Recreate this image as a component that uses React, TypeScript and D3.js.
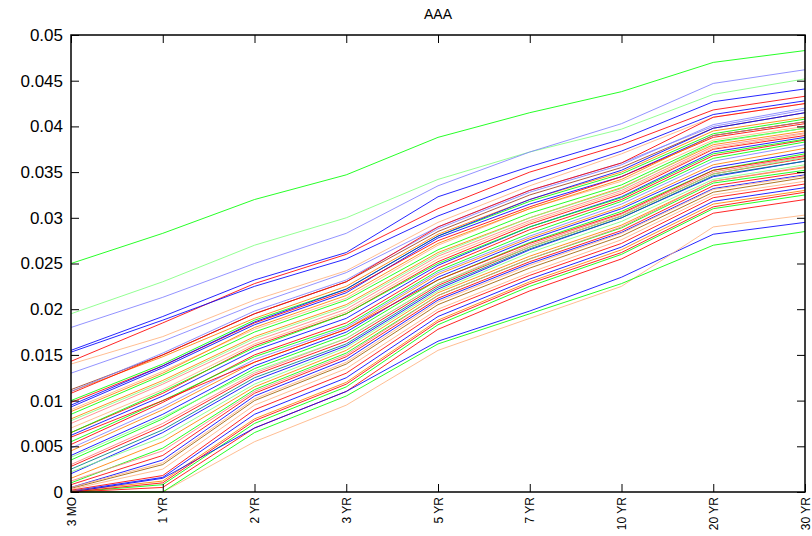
import { useEffect, useRef } from 'react'
import * as d3 from 'd3'

const tenors = ['3 MO', '1 YR', '2 YR', '3 YR', '5 YR', '7 YR', '10 YR', '20 YR', '30 YR']
const yTicks = [0, 0.005, 0.01, 0.015, 0.02, 0.025, 0.03, 0.035, 0.04, 0.045, 0.05]

// one row per curve, values at each tenor
const curves: number[][] = [
  [0.0250, 0.0283, 0.0320, 0.0347, 0.0388, 0.0415, 0.0438, 0.0470, 0.0483],
  [0.0195, 0.0230, 0.0270, 0.0300, 0.0342, 0.0372, 0.0397, 0.0435, 0.0452],
  [0.0180, 0.0213, 0.0250, 0.0283, 0.0335, 0.0372, 0.0403, 0.0447, 0.0462],
  [0.0155, 0.0192, 0.0232, 0.0262, 0.0323, 0.0356, 0.0386, 0.0427, 0.0441],
  [0.0143, 0.0185, 0.0228, 0.0260, 0.0310, 0.0350, 0.0380, 0.0418, 0.0433],
  [0.0153, 0.0188, 0.0225, 0.0255, 0.0302, 0.0340, 0.0373, 0.0413, 0.0428],
  [0.0140, 0.0170, 0.0210, 0.0242, 0.0295, 0.0335, 0.0370, 0.0410, 0.0425],
  [0.0130, 0.0165, 0.0205, 0.0240, 0.0290, 0.0330, 0.0360, 0.0400, 0.0418],
  [0.0112, 0.0150, 0.0195, 0.0230, 0.0285, 0.0325, 0.0355, 0.0398, 0.0415],
  [0.0110, 0.0148, 0.0190, 0.0225, 0.0282, 0.0320, 0.0350, 0.0395, 0.0410],
  [0.0100, 0.0140, 0.0188, 0.0222, 0.0280, 0.0318, 0.0348, 0.0392, 0.0408],
  [0.0093, 0.0136, 0.0183, 0.0218, 0.0278, 0.0315, 0.0345, 0.0390, 0.0405],
  [0.0098, 0.0138, 0.0185, 0.0220, 0.0275, 0.0312, 0.0345, 0.0388, 0.0403],
  [0.0090, 0.0132, 0.0178, 0.0212, 0.0270, 0.0310, 0.0340, 0.0385, 0.0400],
  [0.0085, 0.0128, 0.0175, 0.0210, 0.0265, 0.0305, 0.0336, 0.0383, 0.0398],
  [0.0080, 0.0122, 0.0170, 0.0205, 0.0262, 0.0300, 0.0333, 0.0380, 0.0395],
  [0.0075, 0.0118, 0.0165, 0.0200, 0.0258, 0.0297, 0.0330, 0.0378, 0.0393],
  [0.0065, 0.0108, 0.0160, 0.0195, 0.0252, 0.0293, 0.0326, 0.0375, 0.0390],
  [0.0062, 0.0105, 0.0155, 0.0190, 0.0248, 0.0290, 0.0323, 0.0372, 0.0388],
  [0.0070, 0.0112, 0.0162, 0.0197, 0.0255, 0.0295, 0.0328, 0.0376, 0.0392],
  [0.0052, 0.0098, 0.0150, 0.0185, 0.0245, 0.0287, 0.0320, 0.0368, 0.0385],
  [0.0055, 0.0100, 0.0148, 0.0182, 0.0242, 0.0283, 0.0318, 0.0365, 0.0383],
  [0.0048, 0.0093, 0.0145, 0.0180, 0.0240, 0.0280, 0.0315, 0.0362, 0.0380],
  [0.0045, 0.0090, 0.0142, 0.0178, 0.0238, 0.0278, 0.0312, 0.0358, 0.0376],
  [0.0040, 0.0085, 0.0138, 0.0175, 0.0235, 0.0276, 0.0310, 0.0355, 0.0372],
  [0.0035, 0.0080, 0.0135, 0.0172, 0.0232, 0.0273, 0.0307, 0.0352, 0.0370],
  [0.0030, 0.0075, 0.0130, 0.0168, 0.0228, 0.0270, 0.0304, 0.0350, 0.0367],
  [0.0028, 0.0072, 0.0128, 0.0165, 0.0226, 0.0268, 0.0302, 0.0348, 0.0365],
  [0.0020, 0.0065, 0.0122, 0.0160, 0.0222, 0.0265, 0.0300, 0.0345, 0.0362],
  [0.0022, 0.0060, 0.0118, 0.0158, 0.0220, 0.0262, 0.0296, 0.0342, 0.0358],
  [0.0015, 0.0055, 0.0115, 0.0155, 0.0218, 0.0258, 0.0292, 0.0340, 0.0355],
  [0.0010, 0.0048, 0.0112, 0.0152, 0.0215, 0.0255, 0.0289, 0.0338, 0.0352],
  [0.0008, 0.0040, 0.0108, 0.0148, 0.0212, 0.0252, 0.0286, 0.0335, 0.0350],
  [0.0005, 0.0035, 0.0105, 0.0145, 0.0210, 0.0250, 0.0284, 0.0332, 0.0347],
  [0.0004, 0.0030, 0.0100, 0.0140, 0.0205, 0.0245, 0.0280, 0.0328, 0.0344],
  [0.0003, 0.0025, 0.0095, 0.0135, 0.0200, 0.0240, 0.0276, 0.0325, 0.0340],
  [0.0002, 0.0018, 0.0090, 0.0130, 0.0197, 0.0237, 0.0272, 0.0322, 0.0337],
  [0.0001, 0.0016, 0.0085, 0.0125, 0.0192, 0.0233, 0.0268, 0.0318, 0.0333],
  [0.0001, 0.0012, 0.0080, 0.0120, 0.0188, 0.0230, 0.0265, 0.0315, 0.0330],
  [0.0000, 0.0008, 0.0075, 0.0115, 0.0183, 0.0225, 0.0260, 0.0310, 0.0325],
  [0.0000, 0.0005, 0.0070, 0.0110, 0.0178, 0.0220, 0.0255, 0.0305, 0.0320],
  [0.0000, 0.0015, 0.0070, 0.0110, 0.0165, 0.0198, 0.0235, 0.0282, 0.0295],
  [0.0000, 0.0000, 0.0055, 0.0095, 0.0155, 0.0190, 0.0225, 0.0290, 0.0303],
  [0.0000, 0.0000, 0.0065, 0.0105, 0.0162, 0.0195, 0.0228, 0.0270, 0.0285],
  [0.0060, 0.0100, 0.0142, 0.0178, 0.0232, 0.0272, 0.0305, 0.0352, 0.0368],
  [0.0110, 0.0152, 0.0198, 0.0232, 0.0288, 0.0328, 0.0358, 0.0402, 0.0420],
  [0.0088, 0.0130, 0.0180, 0.0215, 0.0272, 0.0310, 0.0342, 0.0390, 0.0405],
  [0.0038, 0.0082, 0.0132, 0.0168, 0.0228, 0.0268, 0.0302, 0.0348, 0.0366],
  [0.0012, 0.0045, 0.0110, 0.0150, 0.0215, 0.0255, 0.0290, 0.0340, 0.0356],
  [0.0025, 0.0068, 0.0125, 0.0162, 0.0224, 0.0266, 0.0300, 0.0346, 0.0362],
  [0.0000, 0.0010, 0.0078, 0.0118, 0.0186, 0.0228, 0.0262, 0.0312, 0.0328],
  [0.0005, 0.0032, 0.0102, 0.0142, 0.0208, 0.0248, 0.0283, 0.0331, 0.0346],
  [0.0095, 0.0138, 0.0186, 0.0222, 0.0280, 0.0320, 0.0352, 0.0398, 0.0415],
  [0.0065, 0.0110, 0.0158, 0.0195, 0.0250, 0.0290, 0.0322, 0.0370, 0.0386],
  [0.0108, 0.0150, 0.0195, 0.0230, 0.0290, 0.0330, 0.0360, 0.0410, 0.0425],
  [0.0078, 0.0120, 0.0168, 0.0203, 0.0260, 0.0300, 0.0332, 0.0382, 0.0398]
]

const curveColors = [
  '#00ff00', '#80ff80', '#8080ff', '#0000ff', '#ff0000', '#0000ff', '#ffb380', '#8080ff',
  '#a04020', '#ff8000', '#00ff00', '#0000ff', '#ff0000', '#ffb380', '#00ff00', '#ff8000',
  '#ff8080', '#ff0000', '#0000ff', '#ffb380', '#ff0000', '#00ff00', '#8080ff', '#ff8000',
  '#0000ff', '#00ff00', '#ff8080', '#ff0000', '#0000ff', '#80ff80', '#ff8000', '#00ff00',
  '#ff0000', '#0000ff', '#a06000', '#ffb380', '#ff0000', '#0000ff', '#ff8000', '#00ff00',
  '#ff0000', '#0000ff', '#ffb380', '#00ff00', '#ff0000', '#8080ff', '#ff8000', '#80ff80',
  '#ff8080', '#008080', '#ff0000', '#ffb380', '#0000ff', '#00ff00', '#ff0000', '#80ff80'
]

export default function App() {
  const svgRef = useRef<SVGSVGElement>(null)

  useEffect(() => {
    if (!svgRef.current) return
    const width = 812
    const height = 536
    const left = 71, right = 805, top = 35, bottom = 492

    const svg = d3.select(svgRef.current)
    svg.selectAll('*').remove()
    svg.attr('width', width).attr('height', height)

    const x = d3.scalePoint<string>().domain(tenors).range([left, right])
    const y = d3.scaleLinear().domain([0, 0.05]).range([bottom, top])

    // curves
    const line = d3.line<number>()
      .x((_, i) => x(tenors[i]) as number)
      .y(d => y(d))

    svg.append('g')
      .selectAll('path')
      .data(curves)
      .enter()
      .append('path')
      .attr('d', d => line(d))
      .attr('fill', 'none')
      .attr('stroke', (_, i) => curveColors[i % curveColors.length])
      .attr('stroke-width', 1)
      .attr('stroke-opacity', 0.85)

    const font = 'Liberation Sans, Arial, sans-serif'

    // left axis
    const gl = svg.append('g')
      .attr('transform', `translate(${left},0)`)
      .call(d3.axisLeft(y).tickValues(yTicks).tickSizeInner(-8).tickSizeOuter(0).tickPadding(8)
        .tickFormat(d => String(+(+d).toFixed(3))))
    gl.select('.domain').remove()
    gl.selectAll('text').attr('font-size', 17).attr('font-family', font).attr('fill', '#000')

    // right axis
    const gr = svg.append('g')
      .attr('transform', `translate(${right},0)`)
      .call(d3.axisRight(y).tickValues(yTicks).tickSizeInner(-8).tickSizeOuter(0).tickFormat(() => ''))
    gr.select('.domain').remove()

    // top axis
    const gt = svg.append('g')
      .attr('transform', `translate(0,${top})`)
      .call(d3.axisTop(x).tickSizeInner(-8).tickSizeOuter(0).tickFormat(() => ''))
    gt.select('.domain').remove()

    // bottom axis
    const gb = svg.append('g')
      .attr('transform', `translate(0,${bottom})`)
      .call(d3.axisBottom(x).tickSizeInner(-8).tickSizeOuter(0).tickPadding(0))
    gb.select('.domain').remove()
    gb.selectAll('text')
      .attr('font-size', 12)
      .attr('font-family', font)
      .attr('fill', '#000')
      .attr('transform', 'rotate(-90)')
      .attr('text-anchor', 'end')
      .attr('x', -5)
      .attr('y', 0)
      .attr('dy', '0.35em')

    svg.selectAll('.tick line').attr('stroke', '#000')

    // box
    svg.append('rect')
      .attr('x', left)
      .attr('y', top)
      .attr('width', right - left)
      .attr('height', bottom - top)
      .attr('fill', 'none')
      .attr('stroke', '#000')
      .attr('stroke-width', 1.5)

    // title
    svg.append('text')
      .attr('x', (left + right) / 2)
      .attr('y', 19)
      .attr('text-anchor', 'middle')
      .attr('font-family', font)
      .attr('font-size', 14)
      .attr('fill', '#000')
      .text('AAA')
  }, [])

  return (
    <svg ref={svgRef} style={{ position: 'absolute', left: 0, top: 0, background: '#fff' }} />
  )
}
